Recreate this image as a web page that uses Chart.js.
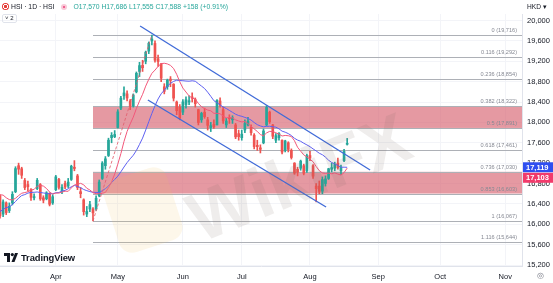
<!DOCTYPE html>
<html>
<head>
<meta charset="utf-8">
<script src="https://cdn.jsdelivr.net/npm/chart.js@4.4.1/dist/chart.umd.min.js"></script>
<style>
  html, body { margin: 0; padding: 0; background: #fff; }
  #wrap { position: relative; width: 553px; height: 283px; overflow: hidden; font-family: 'Liberation Sans', Arial, sans-serif; color: #131722; }
  #chart { position: absolute; left: 0; top: 0; }
  .ovl { position: absolute; white-space: nowrap; pointer-events: none; }
  #hdr { left: 2px; top: 3px; font-size: 6.8px; line-height: 8px; }
  #hdr .sym { display: inline-block; width: 7px; height: 7px; border-radius: 50%; vertical-align: -1px; margin-right: 2px;
              background: radial-gradient(circle, #e53935 28%, #fff 32%, #fff 46%, #e53935 52%); }
  #hdr .dot { display: inline-block; width: 6px; height: 6px; border-radius: 50%; vertical-align: -1px; margin: 0 6px 0 7px;
              background: radial-gradient(circle, #f06292 30%, #f8c8d6 36%); }
  #hdr .ohlc { color: #26a69a; }
  #legendBox { left: 2px; top: 14px; font-size: 6px; line-height: 7px; padding: 0 2px; border: 1px solid #e0e3eb; border-radius: 2px; color: #131722; }
  #hkd { left: 527px; top: 3px; font-size: 6.6px; }
  #gear { left: 537px; top: 271px; font-size: 8px; color: #787b86; }
  #tvlogo { left: 4px; top: 252px; font-size: 9.4px; font-weight: bold; letter-spacing: -0.1px; }
  #tvlogo svg { vertical-align: -1px; margin-right: 3px; }
  #wm { left: 176px; top: 184px; font-size: 70px; font-weight: bold; color: rgba(120, 110, 100, 0.12); transform: rotate(-22deg); transform-origin: left top; }
  #wmlogo { left: 110px; top: 172px; width: 66px; height: 76px; border-radius: 14px; background: rgba(240, 190, 90, 0.13); transform: rotate(-18deg); }
</style>
</head>
<body>
<div id="wrap">
  <canvas id="chart" width="553" height="283"></canvas>
  <div class="ovl" id="wmlogo"></div>
  <div class="ovl" id="wm">WikiFX</div>
  <div class="ovl" id="hdr"><span class="sym"></span>HSI · 1D · HSI<span class="dot"></span><span class="ohlc">O17,570 H17,686 L17,555 C17,588 +158 (+0.91%)</span></div>
  <div class="ovl" id="legendBox">˅ 2</div>
  <div class="ovl" id="hkd">HKD ▾</div>
  <div class="ovl" id="gear">◎</div>
  <div class="ovl" id="tvlogo"><svg width="14" height="9" viewBox="0 0 14 9"><rect x="0" y="0" width="6" height="3" fill="#131722"/><rect x="3" y="0" width="3" height="9" fill="#131722"/><circle cx="8.3" cy="1.6" r="1.6" fill="#131722"/><polygon points="11,0 14,0 10.5,9 7.5,9" fill="#131722"/></svg>TradingView</div>
</div>
<script>
// HSI daily candles, 5 Mar 2024 - 19 Aug 2024 (index 0 = 5 Mar)
const opens = [16560, 16200, 16420, 16270, 16420, 16640, 17150, 17090, 16860, 16780, 16680, 16520, 16700, 16780, 16520, 16500, 16600, 16420,
  16680, 16880, 16650, 16800, 16750, 16880, 17120, 16950, 16640, 16480, 16200, 16300, 16300, 16300, 16560, 16900, 17150, 17350, 17700, 17720,
  17900, 18280, 18520, 18560, 18420, 18320, 18600, 19000, 19120, 19200, 19400, 19600, 19550, 19250, 19150, 18700, 18700, 18850, 18750, 18400, 18300,
  18200, 18350, 18400, 18500, 18450, 18250, 18050, 18200, 18050, 17900, 17960, 17950, 18420, 18250, 17950, 18100, 18050, 17950, 17780,
  17700, 17850, 17950, 17900, 17750, 17550, 17500, 17600, 17950, 18200, 17950, 17650, 17700, 17650, 17450, 17600, 17450, 17200, 17080, 17100, 17150, 17050,
  17350, 17150, 16750, 16750, 16650, 16800, 16900, 17080, 17100, 17200, 17050, 17250, 17570];
const highs = [16580, 16480, 16440, 16420, 16640, 17130, 17200, 17120, 16900, 16850, 16700, 16600, 16900, 16800, 16560, 16640, 16620, 16580,
  16960, 16900, 16780, 16850, 16900, 17160, 17250, 16980, 16720, 16500, 16350, 16450, 16330, 16560, 16870, 17230, 17330, 17690, 17800, 17840,
  18250, 18510, 18700, 18620, 18450, 18560, 18990, 19180, 19220, 19400, 19580, 19716, 19600, 19320, 19160, 18760, 18850, 18900, 18760, 18420, 18350,
  18450, 18500, 18520, 18580, 18480, 18260, 18200, 18280, 18100, 18000, 18050, 18450, 18480, 18300, 18080, 18150, 18130, 17980, 17850,
  17850, 18050, 18100, 17950, 17780, 17650, 17560, 17870, 18330, 18220, 17960, 17780, 17800, 17660, 17650, 17620, 17480, 17210, 17120, 17260, 17180, 17380,
  17430, 17170, 16800, 16850, 16930, 16950, 17100, 17200, 17220, 17300, 17160, 17470, 17686];
const lows = [16120, 16150, 16190, 16230, 16380, 16620, 16980, 16900, 16680, 16650, 16470, 16480, 16680, 16470, 16420, 16480, 16360, 16390,
  16660, 16690, 16600, 16700, 16720, 16860, 17050, 16680, 16520, 16180, 16150, 16250, 16067, 16270, 16540, 16880, 17080, 17330, 17600, 17700,
  17890, 18250, 18450, 18420, 18250, 18300, 18580, 18900, 19000, 19150, 19350, 19520, 19180, 19100, 18800, 18560, 18650, 18700, 18420, 18150, 18050,
  18150, 18280, 18350, 18400, 18300, 17950, 18000, 18080, 17850, 17820, 17880, 17950, 18300, 17980, 17900, 17980, 17980, 17680, 17650,
  17650, 17800, 17930, 17750, 17480, 17450, 17400, 17580, 17930, 17980, 17680, 17600, 17650, 17380, 17420, 17420, 17280, 16980, 16950, 17060, 16970, 17020,
  17250, 16900, 16440, 16600, 16600, 16750, 16880, 17030, 17050, 17080, 16980, 17230, 17555];
const closes = [16162, 16438, 16230, 16353, 16588, 17093, 17082, 16962, 16721, 16737, 16530, 16543, 16863, 16499, 16474, 16618, 16393, 16541,
  16931, 16725, 16724, 16733, 16829, 17139, 17095, 16721, 16601, 16248, 16252, 16386, 16224, 16511, 16829, 17201, 17285, 17651, 17746, 17763,
  18207, 18476, 18578, 18479, 18314, 18538, 18964, 19115, 19074, 19377, 19554, 19636, 19221, 19196, 18868, 18609, 18828, 18822, 18477, 18231, 18080,
  18403, 18444, 18425, 18476, 18367, 17998, 18176, 18113, 17942, 17936, 17916, 18431, 18335, 18029, 18027, 18072, 18090, 17716, 17719,
  17769, 17979, 18028, 17799, 17525, 17523, 17472, 17832, 18294, 18016, 17728, 17739, 17778, 17418, 17636, 17470, 17311, 17005, 17021, 17239, 17002, 17345,
  17304, 16945, 16698, 16647, 16877, 16891, 17090, 17112, 17174, 17113, 17110, 17430, 17588];

// MA 10 (pink) and MA 20 (blue)
const ma10 = [16579, 16573, 16521, 16484, 16479, 16510, 16564, 16609, 16623, 16637, 16673, 16684, 16747, 16762, 16750, 16703, 16634, 16592,
  16613, 16612, 16631, 16650, 16647, 16711, 16773, 16783, 16804, 16775, 16707, 16673, 16623, 16601, 16601, 16607, 16626, 16719, 16833, 16985,
  17180, 17389, 17625, 17822, 17970, 18104, 18272, 18418, 18551, 18712, 18847, 18963, 19027, 19099, 19154, 19161, 19148, 19119, 19059, 18944, 18797,
  18674, 18596, 18519, 18480, 18455, 18372, 18308, 18271, 18242, 18228, 18179, 18178, 18169, 18124, 18090, 18098, 18089, 18049, 18027,
  18010, 18017, 17976, 17923, 17872, 17822, 17762, 17736, 17794, 17824, 17820, 17796, 17771, 17733, 17744, 17738, 17722, 17640, 17512, 17435, 17362, 17323,
  17275, 17228, 17134, 17052, 17008, 16997, 17004, 16991, 17008, 16985, 16966, 17014, 17103];
const ma20 = [16247, 16292, 16328, 16342, 16386, 16447, 16513, 16564, 16583, 16612, 16626, 16628, 16634, 16623, 16615, 16606, 16599, 16601,
  16618, 16624, 16652, 16667, 16697, 16736, 16762, 16743, 16719, 16683, 16660, 16642, 16627, 16625, 16624, 16659, 16699, 16751, 16819, 16880,
  16944, 17031, 17124, 17211, 17285, 17355, 17449, 17568, 17692, 17849, 18014, 18176, 18326, 18460, 18562, 18633, 18710, 18768, 18805, 18828, 18822,
  18818, 18812, 18809, 18817, 18808, 18760, 18713, 18665, 18593, 18512, 18426, 18387, 18344, 18302, 18273, 18235, 18198, 18160, 18135,
  18119, 18098, 18077, 18046, 17998, 17956, 17930, 17913, 17922, 17925, 17915, 17906, 17874, 17828, 17808, 17780, 17742, 17688, 17653, 17629, 17591, 17559,
  17523, 17480, 17439, 17395, 17365, 17318, 17258, 17213, 17185, 17154, 17120, 17121, 17119];

// axis ticks (month labels sit on the first trading day, future days continue the count)
const monthLabels = ['Apr', 'May', 'Jun', 'Jul', 'Aug', 'Sep', 'Oct', 'Nov'];
const monthTicks = [18, 38, 59, 78, 100, 122, 142, 163];
const priceTicks = [15200, 15600, 16000, 16400, 16800, 17200, 17600, 18000, 18400, 18800, 19200, 19600, 20000];

// fib retracement from the 19 Apr low to the 20 May high
const fibLevels = [0, 0.116, 0.236, 0.382, 0.5, 0.618, 0.736, 0.853, 1, 1.116];
const fibPrices = [19716, 19292, 18854, 18322, 17891, 17461, 17030, 16603, 16067, 15644];
const fibBands = [[3, 4], [6, 7]];
const fibFrom = 30, fibTo = 49;

// descending channel, [bar index, price]
const upperChannel = [[45.2, 19893], [119.4, 17066]];
const lowerChannel = [[47.7, 18440], [105.2, 16339]];

const upColor = '#26a69a';
const downColor = '#ef5350';
const FONT = "'Liberation Sans', Arial, sans-serif";
Chart.defaults.font.family = FONT;
Chart.defaults.font.size = 7.5;

const candleColor = ctx => closes[ctx.dataIndex] >= opens[ctx.dataIndex] ? upColor : downColor;

const drawings = {
    id: 'drawings',
    beforeDatasetsDraw(chart) {
        const { ctx, chartArea: a, scales: { x, y } } = chart;
        const x0 = x.getPixelForValue(fibFrom);
        ctx.save();
        ctx.beginPath();
        ctx.rect(a.left, a.top, a.width, a.height);
        ctx.clip();
        ctx.fillStyle = 'rgba(214, 96, 110, 0.64)';
        fibBands.forEach(([i, j]) => {
            const y1 = y.getPixelForValue(fibPrices[i]);
            const y2 = y.getPixelForValue(fibPrices[j]);
            ctx.fillRect(x0, y1, a.right - x0, y2 - y1);
        });
        ctx.strokeStyle = '#adb0b6';
        ctx.lineWidth = 1.2;
        ctx.font = '5.6px ' + FONT;
        ctx.fillStyle = '#868993';
        ctx.textAlign = 'right';
        ctx.textBaseline = 'bottom';
        fibLevels.forEach((lv, k) => {
            const py = Math.round(y.getPixelForValue(fibPrices[k])) + 0.5;
            ctx.beginPath();
            ctx.moveTo(x0, py);
            ctx.lineTo(a.right, py);
            ctx.stroke();
            ctx.fillText(`${lv} (${fibPrices[k].toLocaleString('en-US')})`, a.right - 5, py - 2);
        });
        ctx.restore();
    },
    afterDatasetsDraw(chart) {
        const { ctx, chartArea: a, scales: { x, y } } = chart;
        ctx.save();
        ctx.beginPath();
        ctx.rect(a.left, a.top, a.width, a.height);
        ctx.clip();
        ctx.strokeStyle = '#3f6ad8';
        ctx.lineWidth = 1.3;
        [upperChannel, lowerChannel].forEach(line => {
            ctx.beginPath();
            ctx.moveTo(x.getPixelForValue(line[0][0]), y.getPixelForValue(line[0][1]));
            ctx.lineTo(x.getPixelForValue(line[1][0]), y.getPixelForValue(line[1][1]));
            ctx.stroke();
        });
        // fib trend line (dashed)
        ctx.setLineDash([3, 2]);
        ctx.strokeStyle = 'rgba(226, 95, 110, 0.85)';
        ctx.lineWidth = 1;
        ctx.beginPath();
        ctx.moveTo(x.getPixelForValue(fibFrom), y.getPixelForValue(fibPrices[8]));
        ctx.lineTo(x.getPixelForValue(fibTo), y.getPixelForValue(fibPrices[0]));
        ctx.stroke();
        ctx.restore();
    },
    afterDraw(chart) {
        const { ctx, chartArea: a, scales: { y } } = chart;
        const last = closes.length - 1;
        const yb = y.getPixelForValue(ma20[last]);
        ctx.save();
        ctx.font = 'bold 7.5px ' + FONT;
        ctx.textAlign = 'left';
        ctx.textBaseline = 'middle';
        [['#2f4ff0', ma20[last], yb], ['#f23a6b', ma10[last], yb + 10.5]].forEach(([c, v, cy]) => {
            ctx.fillStyle = c;
            ctx.fillRect(a.right + 1, cy - 5, chart.width - a.right - 1, 10);
            ctx.fillStyle = '#fff';
            ctx.fillText(v.toLocaleString('en-US'), a.right + 4, cy + 0.5);
        });
        ctx.restore();
    }
};

const idx = closes.map((c, i) => i);

new Chart(document.getElementById('chart'), {
    type: 'bar',
    data: {
        datasets: [
            {
                type: 'line',
                data: idx.map(i => ({ x: i, y: ma10[i] })),
                borderColor: '#f2577a',
                borderWidth: 1,
                pointRadius: 0,
                order: 0
            },
            {
                type: 'line',
                data: idx.map(i => ({ x: i, y: ma20[i] })),
                borderColor: '#5d5ff0',
                borderWidth: 1,
                pointRadius: 0,
                order: 0
            },
            {
                data: idx.map(i => ({ x: i, y: [opens[i], closes[i]] })),
                backgroundColor: candleColor,
                barThickness: 2,
                minBarLength: 1,
                grouped: false,
                order: 1
            },
            {
                data: idx.map(i => ({ x: i, y: [lows[i], highs[i]] })),
                backgroundColor: candleColor,
                barThickness: 1,
                grouped: false,
                order: 2
            }
        ]
    },
    options: {
        responsive: false,
        animation: false,
        layout: { padding: { top: 14, left: 0, right: 0, bottom: 0 } },
        plugins: { legend: { display: false }, tooltip: { enabled: false } },
        scales: {
            x: {
                type: 'linear',
                min: 0,
                max: 168.4,
                offset: false,
                afterBuildTicks: s => { s.ticks = monthTicks.map(v => ({ value: v })); },
                afterFit: s => { s.height = 17; },
                ticks: {
                    autoSkip: false,
                    maxRotation: 0,
                    padding: 6,
                    color: '#131722',
                    callback: (v, i) => monthLabels[i]
                },
                grid: { color: '#f3f4f8', drawTicks: false, offset: false },
                border: { color: '#e0e3eb' }
            },
            y: {
                position: 'right',
                min: 15181,
                max: 20128,
                afterBuildTicks: s => { s.ticks = priceTicks.map(v => ({ value: v })); },
                afterFit: s => { s.width = 31; },
                ticks: {
                    padding: 5,
                    color: '#131722',
                    callback: v => v.toLocaleString('en-US')
                },
                grid: { color: '#f3f4f8', drawTicks: false },
                border: { color: '#e0e3eb' }
            }
        }
    },
    plugins: [drawings]
});
</script>
</body>
</html>
